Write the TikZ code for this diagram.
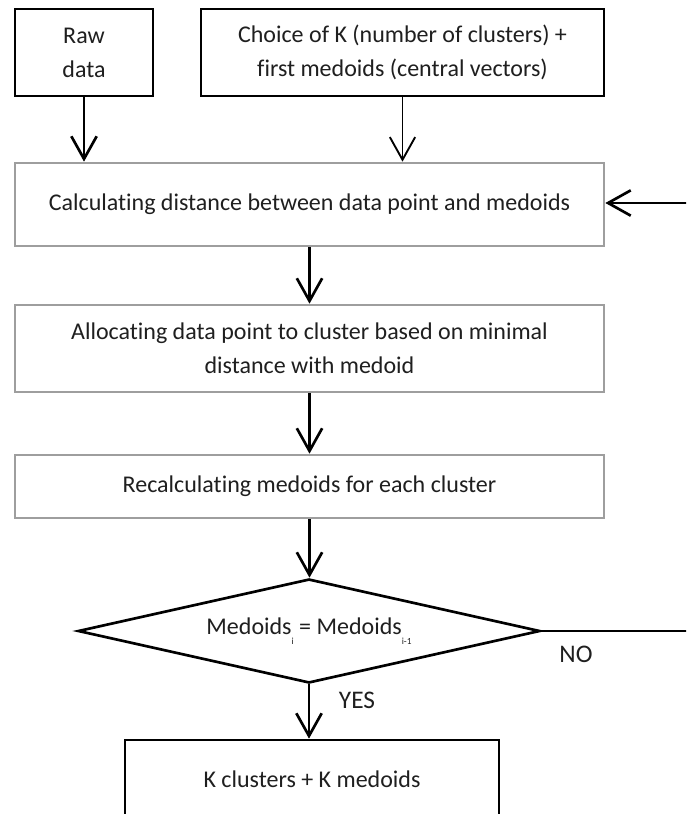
\documentclass[tikz,border=0pt]{standalone}
\usepackage{fontspec}
\setmainfont{Carlito}[Ligatures=NoCommon]
\usetikzlibrary{shapes.geometric,arrows.meta}
\begin{document}
\begin{tikzpicture}[x=0.75pt,y=-0.75pt,
  txt/.style={font=\fontsize{18}{25.5}\selectfont, text=black!88, align=center, inner sep=0pt},
  blackbox/.style={txt, draw=black, line width=2.2pt, rectangle},
  graybox/.style={txt, draw=black!38, line width=2pt, rectangle},
  flow/.style={line width=2pt, -{Straight Barb[length=17pt,width=19pt,line width=2pt]}},
  thinflow/.style={line width=1.1pt, -{Straight Barb[length=17pt,width=19pt,line width=1.4pt]}},
  lbl/.style={font=\fontsize{19}{22}\selectfont, text=black!88, inner sep=0pt}]
\useasboundingbox (0,0) rectangle (686,814);
\clip (0,0) rectangle (686,814);
\fill[white] (0,0) rectangle (686,814);

\node[blackbox, minimum width=103.5pt, minimum height=65.25pt] (raw) at (84,52.5) {Raw\\data};
\node[blackbox, minimum width=302.25pt, minimum height=65.25pt] (choice) at (402.5,52.5) {Choice of K (number of clusters) +\\first medoids (central vectors)};
\node[graybox, minimum width=441.75pt, minimum height=62.25pt] (calc) at (309.5,204.5) {Calculating distance between data point and medoids};
\node[graybox, minimum width=441.75pt, minimum height=65.25pt] (alloc) at (309.5,348.5) {Allocating data point to cluster based on minimal\\distance with medoid};
\node[graybox, minimum width=441.75pt, minimum height=47.25pt] (recalc) at (309.5,486.5) {Recalculating medoids for each cluster};
\node[txt, draw=black, line width=2pt, diamond, aspect=4.44, minimum width=346.5pt, minimum height=78pt] (dia) at (309,631)
  {Medoids\raisebox{-0.9ex}{\fontsize{7}{8}\selectfont i} = Medoids\raisebox{-0.9ex}{\fontsize{7}{8}\selectfont i-1}};
\node[blackbox, line width=2pt, minimum width=280.5pt, minimum height=58.5pt] (final) at (312,779) {K clusters + K medoids};

\draw[flow] (raw.south) -- (raw.south |- calc.north);
\draw[thinflow] (choice.south) -- (choice.south |- calc.north);
\draw[flow] (calc.south) -- (alloc.north);
\draw[flow] (alloc.south) -- (recalc.north);
\draw[flow] (recalc.south) -- (recalc.south |- dia.north);
\draw[flow] (dia.south) -- (dia.south |- final.north);
\draw[flow] (dia.east) -- (720,631) -- (720,203) -- (calc.east |- 0,203);

\node[lbl] (no) at (576,654) {NO};
\node[lbl] (yes) at (357,700) {YES};
\end{tikzpicture}
\end{document}
